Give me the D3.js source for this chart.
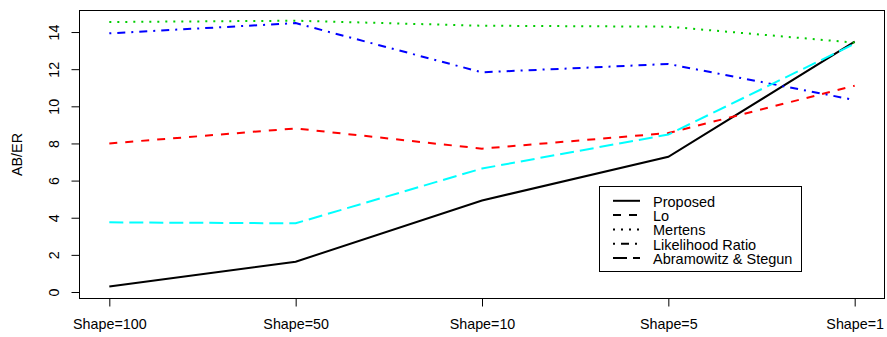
<!DOCTYPE html>
<html>
<head>
<meta charset="utf-8">
<script src="https://cdn.jsdelivr.net/npm/d3@7"></script>
<style>
  html, body { margin: 0; padding: 0; background: #ffffff; }
  svg { display: block; }
  text { font-family: "Liberation Sans", Arial, Helvetica, sans-serif; fill: #000; }
</style>
</head>
<body>
<svg id="chart" width="887" height="337"></svg>
<script>
// Categories along the x axis
const categories = ["Shape=100", "Shape=50", "Shape=10", "Shape=5", "Shape=1"];

// AB/ER values for each method
const proposed        = [0.29, 1.63, 4.93, 7.28, 13.48];
const lo              = [8.00, 8.81, 7.72, 8.56, 11.11];
const mertens         = [14.54, 14.61, 14.34, 14.29, 13.43];
const likelihoodRatio = [13.93, 14.48, 11.83, 12.28, 10.34];
const abramowitz      = [3.75, 3.70, 6.65, 8.48, 13.37];

// Legend labels and y tick values
const seriesNames = ["Proposed", "Lo", "Mertens", "Likelihood Ratio", "Abramowitz & Stegun"];
const yTicks = [0, 2, 4, 6, 8, 10, 12, 14];

const seriesValues = [proposed, lo, mertens, likelihoodRatio, abramowitz];
const styles = [
  { color: "#000000", dash: null },
  { color: "#FF0000", dash: "8,8" },
  { color: "#00CD00", dash: "2,6" },
  { color: "#0000FF", dash: "2,6,8,6" },
  { color: "#00FFFF", dash: "14,6" }
];

const svg = d3.select("#chart");
const box = { left: 79.5, right: 884.5, top: 10.5, bottom: 298.5 };

// R-style plot region: 4% padding around the data range
const x = d3.scaleLinear().domain([0.84, 5.16]).range([box.left, box.right]);
const y = d3.scaleLinear().domain([-0.35, 15.16]).range([box.bottom, box.top]);

// Series lines
const line = d3.line()
  .x((d, i) => x(i + 1))
  .y(d => y(d));

seriesValues.forEach((vals, k) => {
  svg.append("path")
    .datum(vals)
    .attr("d", line)
    .attr("fill", "none")
    .attr("stroke", styles[k].color)
    .attr("stroke-width", 2)
    .attr("stroke-dasharray", styles[k].dash);
});

// Plot frame
svg.append("rect")
  .attr("x", box.left).attr("y", box.top)
  .attr("width", box.right - box.left).attr("height", box.bottom - box.top)
  .attr("fill", "none").attr("stroke", "#000").attr("stroke-width", 1)
  .attr("shape-rendering", "crispEdges");

// X axis
const xAxis = d3.axisBottom(x)
  .tickValues(categories.map((c, i) => i + 1))
  .tickFormat((d) => categories[d - 1])
  .tickSize(8)
  .tickPadding(12);
const gx = svg.append("g")
  .attr("transform", `translate(0,${box.bottom})`)
  .call(xAxis);
gx.select(".domain").attr("d", `M${x(1)},0H${x(5)}`).attr("stroke", "#000");
gx.selectAll(".tick line").attr("stroke", "#000");
gx.selectAll(".tick text")
  .attr("font-size", 14.3)
  .style("font-family", '"Liberation Sans", Arial, sans-serif');

// Y axis with labels parallel to the axis
const yAxis = d3.axisLeft(y)
  .tickValues(yTicks)
  .tickFormat(d3.format("d"))
  .tickSize(8)
  .tickPadding(0);
const gy = svg.append("g")
  .attr("transform", `translate(${box.left},0)`)
  .call(yAxis);
gy.select(".domain").attr("d", `M0,${y(0)}V${y(14)}`).attr("stroke", "#000");
gy.selectAll(".tick line").attr("stroke", "#000");
gy.selectAll(".tick text")
  .attr("font-size", 14.3)
  .style("font-family", '"Liberation Sans", Arial, sans-serif')
  .attr("x", null).attr("dy", null)
  .attr("text-anchor", "middle")
  .attr("dominant-baseline", "central")
  .attr("transform", "translate(-26,0) rotate(-90)");

// Y axis title
svg.append("text")
  .attr("transform", `translate(17,${(box.top + box.bottom) / 2}) rotate(-90)`)
  .attr("text-anchor", "middle")
  .attr("dominant-baseline", "central")
  .attr("font-size", 14.3)
  .text("AB/ER");

// Legend
const legend = svg.append("g");
legend.append("rect")
  .attr("x", 599.5).attr("y", 186.5)
  .attr("width", 202).attr("height", 85)
  .attr("fill", "#fff").attr("stroke", "#000").attr("stroke-width", 1)
  .attr("shape-rendering", "crispEdges");

const rowY = d3.scaleLinear().domain([0, 4]).range([200.8, 258]);
seriesNames.forEach((name, k) => {
  legend.append("line")
    .attr("x1", 613).attr("x2", 640)
    .attr("y1", rowY(k)).attr("y2", rowY(k))
    .attr("stroke", "#000")
    .attr("stroke-width", 2)
    .attr("stroke-dasharray", styles[k].dash);
  legend.append("text")
    .attr("x", 653)
    .attr("y", rowY(k) + 1)
    .attr("dominant-baseline", "central")
    .attr("font-size", 14.5)
    .text(name);
});
</script>
</body>
</html>
